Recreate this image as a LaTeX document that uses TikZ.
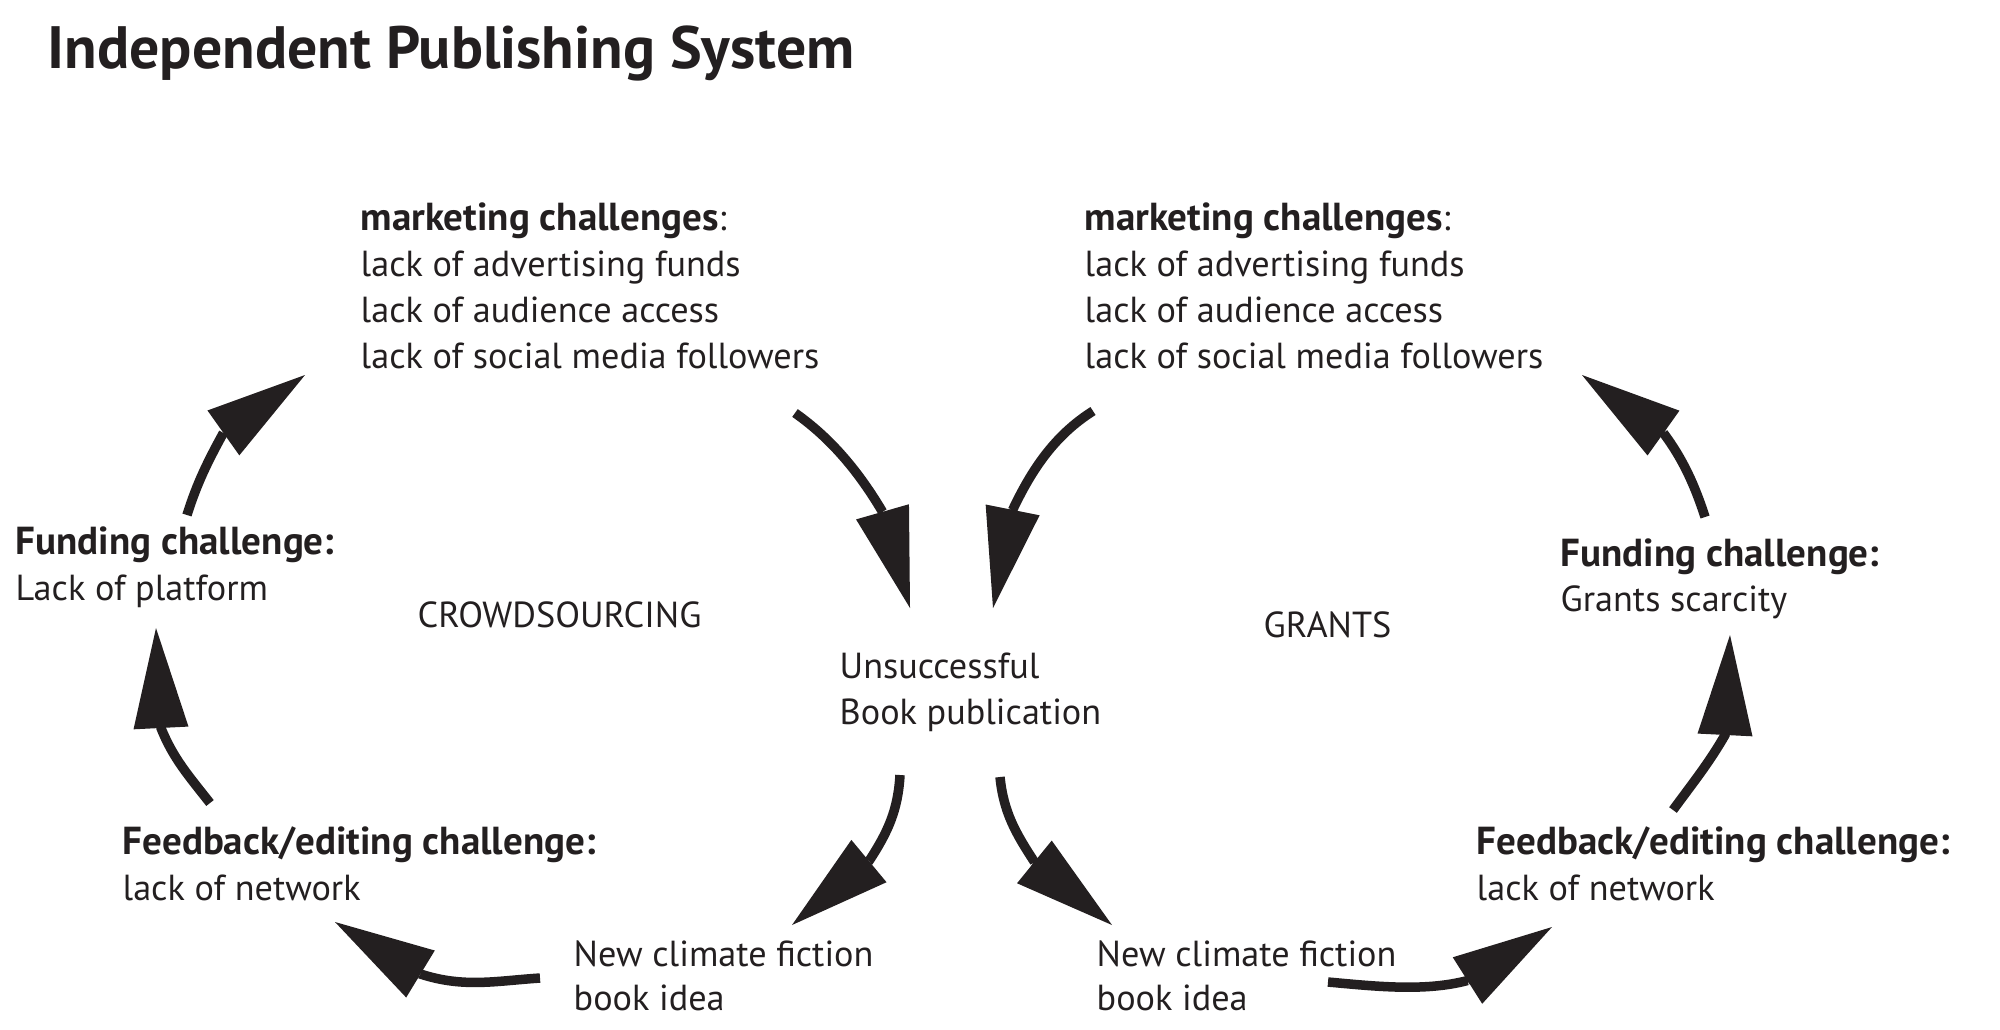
\documentclass[tikz,border=0pt]{standalone}
\usepackage{fontspec}
\setmainfont{PT Sans}
\usetikzlibrary{arrows.meta}
\definecolor{ink}{HTML}{231F20}
\newcommand{\bhd}[1]{{\fontsize{11.1pt}{13pt}\selectfont\bfseries #1}}
\begin{document}
\begin{tikzpicture}[x=0.01cm,y=-0.01cm,
  txt/.style={anchor=base west,inner sep=0pt,text=ink,font=\fontsize{10.3pt}{13pt}\selectfont},
  hd/.style={anchor=base west,inner sep=0pt,text=ink,font=\fontsize{11.1pt}{13pt}\selectfont\bfseries},
  ttl/.style={anchor=base west,inner sep=0pt,text=ink,font=\fontsize{17pt}{20pt}\selectfont\bfseries},
  flow/.style={draw=ink,line width=0.095cm,-{Triangle[length=1cm,width=0.55cm,line width=0pt]}}
]
\useasboundingbox (0,0) rectangle (2000,1029);

% title
\node[ttl] (title) at (47,68) {Independent Publishing System};

% top-left marketing block
\node[txt] (ml1) at (360,230) {\bhd{marketing challenges}:};
\node[txt] (ml2) at (360,276) {lack of advertising funds};
\node[txt] (ml3) at (360,322) {lack of audience access};
\node[txt] (ml4) at (360,368) {lack of social media followers};

% top-right marketing block
\node[txt] (mr1) at (1084,230) {\bhd{marketing challenges}:};
\node[txt] (mr2) at (1084,276) {lack of advertising funds};
\node[txt] (mr3) at (1084,322) {lack of audience access};
\node[txt] (mr4) at (1084,368) {lack of social media followers};

% funding left
\node[hd]  (fl1) at (15,554) {Funding challenge:};
\node[txt] (fl2) at (15,600) {Lack of platform};
% funding right
\node[hd]  (fr1) at (1560,566) {Funding challenge:};
\node[txt] (fr2) at (1560,611) {Grants scarcity};

% system labels
\node[txt] (crowd) at (417,627) {CROWDSOURCING};
\node[txt] (grants) at (1263,637) {GRANTS};

% centre
\node[txt] (u1) at (839,678) {Unsuccessful};
\node[txt] (u2) at (839,724) {Book publication};

% feedback
\node[hd]  (bl1) at (122,854) {Feedback/editing challenge:};
\node[txt] (bl2) at (122,900) {lack of network};
\node[hd]  (br1) at (1476,854) {Feedback/editing challenge:};
\node[txt] (br2) at (1476,900) {lack of network};

% new ideas
\node[txt] (nl1) at (573,966) {New climate fiction};
\node[txt] (nl2) at (573,1010) {book idea};
\node[txt] (nr1) at (1096,966) {New climate fiction};
\node[txt] (nr2) at (1096,1010) {book idea};

% arrow end points
\coordinate (aS) at (795,413);  \coordinate (aT) at (910,608);
\coordinate (bS) at (1093,411); \coordinate (bT) at (993,608);
\coordinate (cS) at (900,775);  \coordinate (cT) at (792,925);
\coordinate (dS) at (1000,777); \coordinate (dT) at (1112,925);
\coordinate (eS) at (540,978);  \coordinate (eT) at (335,922);
\coordinate (fS) at (1328,982); \coordinate (fT) at (1552,927);
\coordinate (gS) at (1673,810); \coordinate (gT) at (1730,635);
\coordinate (hS) at (1705,517); \coordinate (hT) at (1582,375);
\coordinate (iS) at (210,803);  \coordinate (iT) at (156,628);
\coordinate (jS) at (187,515);  \coordinate (jT) at (305,375);

\draw[flow] (aS) .. controls (832,439) and (859.5,473) .. (882.5,511.8) -- (aT);
\draw[flow] (bS) .. controls (1055,435) and (1032,469) .. (1012.6,510) -- (bT);
\draw[flow] (cS) .. controls (898,810) and (888,832) .. (869,861) -- (cT);
\draw[flow] (dS) .. controls (1003.5,812) and (1015.5,833) .. (1034.5,862) -- (dT);
\draw[flow] (eS) .. controls (495,981) and (463.5,988) .. (420.5,974) -- (eT);
\draw[flow] (fS) .. controls (1373,986) and (1424,992) .. (1467.5,980.5) -- (fT);
\draw[flow] (gS) .. controls (1692,784) and (1709,763) .. (1725,735) -- (gT);
\draw[flow] (hS) .. controls (1695,486) and (1683,459) .. (1663.4,433) -- (hT);
\draw[flow] (iS) .. controls (188,775) and (173,758) .. (161,728) -- (iT);
\draw[flow] (jS) .. controls (197,483) and (208,461) .. (223.4,432.9) -- (jT);
\end{tikzpicture}
\end{document}
